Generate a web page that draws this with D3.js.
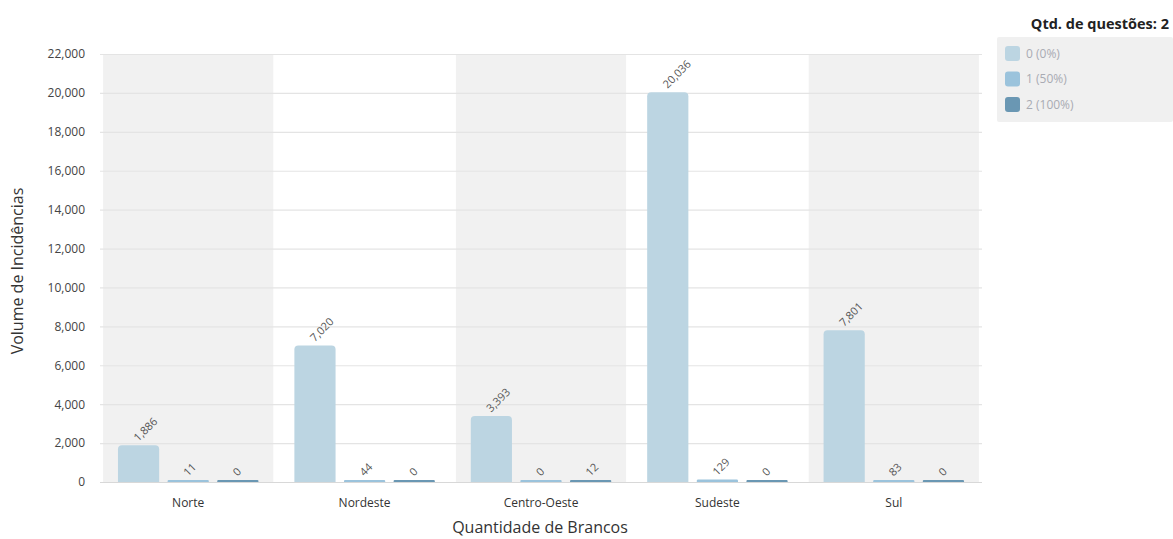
<!DOCTYPE html>
<html>
<head>
<meta charset="utf-8">
<script src="https://cdn.jsdelivr.net/npm/d3@7"></script>
<style>
  html, body { margin: 0; padding: 0; background: #fff; }
  svg { display: block; font-family: "Open Sans", "Noto Sans", sans-serif; }
  svg text { font-family: "Open Sans", "Noto Sans", sans-serif; }
</style>
</head>
<body>
<svg id="chart" width="1173" height="539"></svg>
<script>
// Regions along the x axis
const regions = ["Norte", "Nordeste", "Centro-Oeste", "Sudeste", "Sul"];
// Series: number of blank answers (legend labels)
const seriesKeys = ["0", "1", "2"];
const seriesLabels = ["0 (0%)", "1 (50%)", "2 (100%)"];
const seriesColors = ["#bcd5e2", "#9bc3dc", "#6a97b3"];
// Incidence counts per region, one array per series
const blanks0 = [1886, 7020, 3393, 20036, 7801];
const blanks1 = [11, 44, 0, 129, 83];
const blanks2 = [0, 0, 12, 0, 0];
// Y axis ticks
const yTicks = [0, 2000, 4000, 6000, 8000, 10000, 12000, 14000, 16000, 18000, 20000, 22000];

const seriesValues = [blanks0, blanks1, blanks2];
const rows = regions.map((r, i) => ({
  region: r,
  values: seriesKeys.map((k, s) => ({ key: k, s, value: seriesValues[s][i] }))
}));

const svg = d3.select("#chart");
const plot = { left: 100, right: 982, top: 54, bottom: 482 };

const x0 = d3.scaleBand().domain(regions)
  .range([plot.left, plot.right])
  .paddingInner(0.035).paddingOuter(0.0175);
const x1 = d3.scaleBand().domain(seriesKeys)
  .range([0, x0.bandwidth()])
  .paddingInner(0.17).paddingOuter(0.3);
const y = d3.scaleLinear().domain([0, 22000]).range([plot.bottom, plot.top]);
const fmt = d3.format(",");

// Alternating shaded bands behind the groups
svg.append("g").selectAll("rect")
  .data(regions.filter((d, i) => i % 2 === 0))
  .join("rect")
  .attr("x", d => x0(d))
  .attr("y", plot.top)
  .attr("width", x0.bandwidth())
  .attr("height", plot.bottom - plot.top)
  .attr("fill", "#f1f1f1");

// Horizontal grid lines
svg.append("g").selectAll("line")
  .data(yTicks)
  .join("line")
  .attr("x1", plot.left).attr("x2", plot.right)
  .attr("y1", d => y(d) + 0.5).attr("y2", d => y(d) + 0.5)
  .attr("stroke", d => d === 0 ? "#d8d8d8" : "#e4e4e4")
  .attr("stroke-width", 1.2);

// Y axis labels
const yAxis = d3.axisLeft(y).tickValues(yTicks).tickFormat(fmt).tickSize(0).tickPadding(0);
const gy = svg.append("g").attr("transform", `translate(85,0)`).call(yAxis)
  .attr("font-family", null).attr("font-size", null);
gy.select(".domain").remove();
gy.selectAll("text")
  .attr("fill", "#444")
  .style("font-size", "12px")
  .attr("dy", "0.32em");

// X axis labels
const xAxis = d3.axisBottom(x0).tickSize(0).tickPadding(0);
const gx = svg.append("g").attr("transform", `translate(0,${plot.bottom + 16})`).call(xAxis)
  .attr("font-family", null).attr("font-size", null);
gx.select(".domain").remove();
gx.selectAll("text")
  .attr("fill", "#333")
  .style("font-size", "12px");

// Bars with rounded top corners and a small minimum visible height
const minH = 2;
const r = 4;
function barPath(x, top, w, h) {
  const rr = Math.min(r, h / 2, w / 2);
  const b = top + h;
  return `M${x},${b}V${top + rr}Q${x},${top} ${x + rr},${top}H${x + w - rr}Q${x + w},${top} ${x + w},${top + rr}V${b}Z`;
}

const groups = svg.append("g").selectAll("g")
  .data(rows)
  .join("g")
  .attr("transform", d => `translate(${x0(d.region)},0)`);

groups.selectAll("path")
  .data(d => d.values)
  .join("path")
  .attr("fill", d => seriesColors[d.s])
  .attr("d", d => {
    const h = Math.max(minH, plot.bottom - y(d.value));
    return barPath(x1(d.key), plot.bottom - h, x1.bandwidth(), h);
  });

// Value labels, rotated
groups.selectAll("text")
  .data(d => d.values)
  .join("text")
  .attr("transform", d => {
    const h = Math.max(minH, plot.bottom - y(d.value));
    const cx = x1(d.key) + x1.bandwidth() / 2;
    return `translate(${cx - 3},${plot.bottom - h - 6}) rotate(-45)`;
  })
  .attr("text-anchor", "start")
  .attr("dy", "0.35em")
  .attr("fill", "#555")
  .style("font-size", "11px")
  .text(d => fmt(d.value));

// Axis titles
svg.append("text")
  .attr("x", (plot.left + plot.right) / 2 - 1)
  .attr("y", 533)
  .attr("text-anchor", "middle")
  .attr("fill", "#333")
  .style("font-size", "16px")
  .text("Quantidade de Brancos");

svg.append("text")
  .attr("transform", "translate(23,271) rotate(-90)")
  .attr("text-anchor", "middle")
  .attr("fill", "#333")
  .style("font-size", "16px")
  .text("Volume de Incidências");

// Legend
const legend = svg.append("g");
legend.append("text")
  .attr("x", 1169).attr("y", 29)
  .attr("text-anchor", "end")
  .attr("fill", "#222")
  .style("font-size", "14.5px")
  .style("font-weight", "bold")
  .text("Qtd. de questões: 2");
legend.append("rect")
  .attr("x", 997).attr("y", 37)
  .attr("width", 176).attr("height", 85)
  .attr("rx", 2)
  .attr("fill", "#f0f0f0");
const items = legend.selectAll("g.item")
  .data(seriesLabels)
  .join("g")
  .attr("class", "item")
  .attr("transform", (d, i) => `translate(1005,${46 + i * 25.5})`);
items.append("rect")
  .attr("width", 15).attr("height", 15).attr("rx", 3)
  .attr("fill", (d, i) => seriesColors[i]);
items.append("text")
  .attr("x", 21).attr("y", 7.5).attr("dy", "0.35em")
  .attr("fill", "#a9abb3")
  .style("font-size", "12px")
  .text(d => d);
</script>
</body>
</html>
